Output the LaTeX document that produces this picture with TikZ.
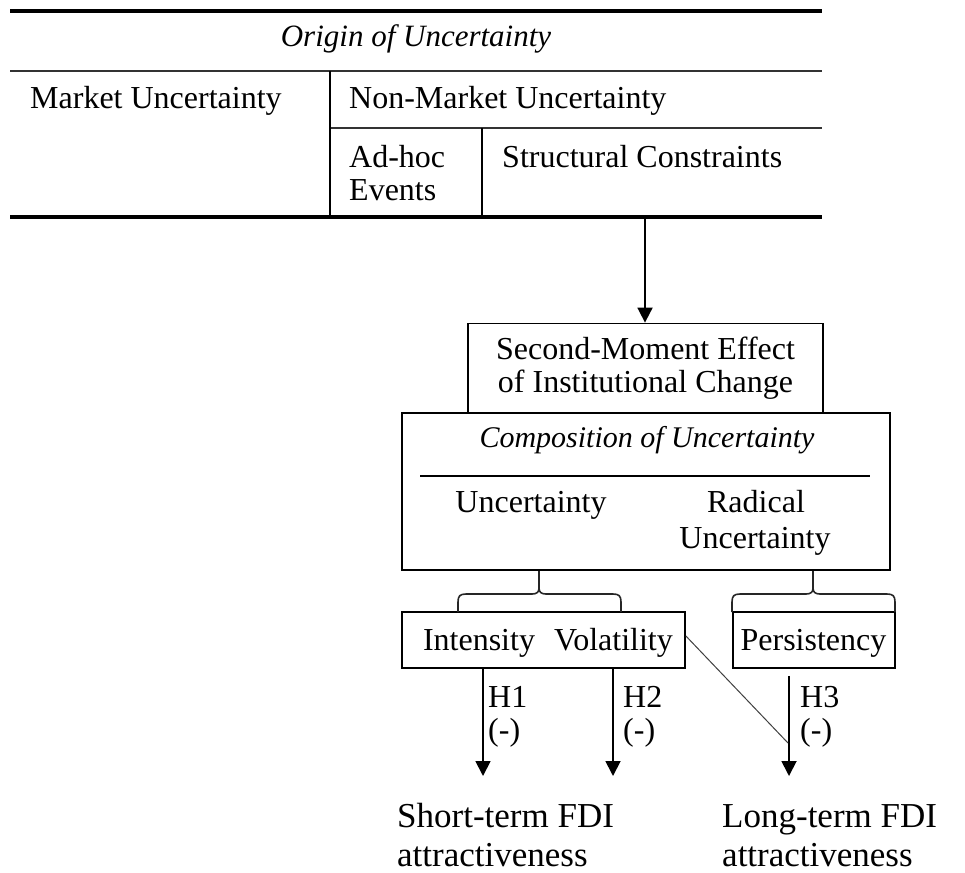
\documentclass[tikz,border=0pt]{standalone}
\usepackage{fontspec}
\setmainfont{Liberation Serif}
\usetikzlibrary{arrows.meta}

\begin{document}
\begin{tikzpicture}[x=1pt,y=-1pt,
  txt/.style={inner sep=0pt, anchor=base west, font=\fontsize{32}{33}\selectfont},
  ctxt/.style={txt, anchor=base},
  big/.style={inner sep=0pt, anchor=base west, font=\fontsize{35}{40}\selectfont},
  rule/.style={line width=2pt, draw=black!80},
  heavy/.style={line width=3.2pt},
  sep/.style={line width=1.5pt},
  frame/.style={draw, line width=1.8pt, inner sep=0pt},
  arr/.style={line width=1.8pt, -{Triangle[length=15pt,width=15pt]}},
  bracepath/.style={line width=1.6pt, draw=black!85}
]
\useasboundingbox (0,0) rectangle (965,872);

% ---- table of origins ----
\coordinate (tl1) at (10,11);   \coordinate (tr1) at (822,11);
\coordinate (tl2) at (10,71);   \coordinate (tr2) at (822,71);
\coordinate (tl3) at (330,128); \coordinate (tr3) at (822,128);
\coordinate (tl4) at (10,217);  \coordinate (tr4) at (822,217);
\draw[heavy] (tl1) -- (tr1);
\draw[rule] (tl2) -- (tr2);
\draw[rule] (tl3) -- (tr3);
\draw[heavy] (tl4) -- (tr4);
\coordinate (v1t) at (330,71);  \coordinate (v1b) at (330,217);
\coordinate (v2t) at (482,128); \coordinate (v2b) at (482,217);
\draw[sep] (v1t) -- (v1b);
\draw[sep] (v2t) -- (v2b);

\node[ctxt, font=\fontsize{31}{33}\selectfont\itshape] (origin) at (416,47) {Origin of Uncertainty};
\node[txt] (mkt) at (30,108) {Market Uncertainty};
\node[txt] (nonmkt) at (349,108) {Non-Market Uncertainty};
\node[txt] (adhoc1) at (349,167) {Ad-hoc};
\node[txt] (adhoc2) at (349,200) {Events};
\node[txt] (struct) at (502,167) {Structural Constraints};

% ---- second-moment effect ----
\node[frame, minimum width=355pt, minimum height=90pt, align=center,
      font=\fontsize{32}{33}\selectfont] (sm) at (645.5,368.5)
      {Second-Moment Effect\\of Institutional Change};
\coordinate (tb) at (645,219);
\draw[arr] (tb) -- (sm.north -| tb);

% ---- composition of uncertainty ----
\node[frame, minimum width=488pt, minimum height=157pt] (comp) at (646,491.5) {};
\node[ctxt, font=\fontsize{30}{33}\selectfont\itshape] (comptitle) at (647,447) {Composition of Uncertainty};
\coordinate (cl) at (420,476); \coordinate (cr) at (870,476);
\draw[line width=1.6pt] (cl) -- (cr);
\node[ctxt] (unc) at (531,512) {Uncertainty};
\node[ctxt] (rad1) at (756,512) {Radical};
\node[ctxt] (rad2) at (755,548) {Uncertainty};

% ---- dimension boxes ----
\node[frame, minimum width=283pt, minimum height=56pt] (iv) at (543.5,640) {};
\node[ctxt] (intens) at (479,650) {Intensity};
\node[ctxt] (volat) at (613.5,650) {Volatility};
\node[frame, minimum width=162pt, minimum height=56pt] (pb) at (814,640) {};
\node[ctxt] (pers) at (813.5,650) {Persistency};

% ---- braces joining the composition box to the dimensions ----
\coordinate (s1) at (539,588);
\draw[bracepath] (comp.south -| s1) -- (s1);
\draw[bracepath] (458,612) -- (458,602) .. controls (458,596) and (460,594) .. (466,594)
  -- (532,594) .. controls (537,594) and (539,592) .. (s1)
  .. controls (539,592) and (541,594) .. (546,594)
  -- (613,594) .. controls (619,594) and (621,596) .. (621,602) -- (621,612);
\coordinate (s2) at (813,588);
\draw[bracepath] (comp.south -| s2) -- (s2);
\draw[bracepath] (732,612) -- (732,602) .. controls (732,596) and (734,594) .. (740,594)
  -- (806,594) .. controls (811,594) and (813,592) .. (s2)
  .. controls (813,592) and (815,594) .. (820,594)
  -- (887,594) .. controls (893,594) and (895,596) .. (895,602) -- (895,612);

% ---- hypotheses ----
\coordinate (t1) at (483,776);
\coordinate (t2) at (613,776);
\coordinate (t3) at (789,776);
\draw[arr] (iv.south -| t1) -- (t1);
\draw[arr] (iv.south -| t2) -- (t2);
\draw[arr] ([yshift=-7pt]pb.south -| t3) -- (t3);
\coordinate (d3) at (788,743);
\draw[line width=1pt, draw=black!75] ([yshift=4pt]iv.east) -- (d3);

\node[txt] (h1) at (488,707) {H1};
\node[txt] (h1s) at (488,740) {(-)};
\node[txt] (h2) at (623,707) {H2};
\node[txt] (h2s) at (623,740) {(-)};
\node[txt] (h3) at (800,707) {H3};
\node[txt] (h3s) at (800,740) {(-)};

% ---- outcomes ----
\node[big] (st1) at (397,827) {Short-term FDI};
\node[big] (st2) at (397,866) {attractiveness};
\node[big] (lt1) at (722,827) {Long-term FDI};
\node[big] (lt2) at (722,866) {attractiveness};
\end{tikzpicture}
\end{document}
